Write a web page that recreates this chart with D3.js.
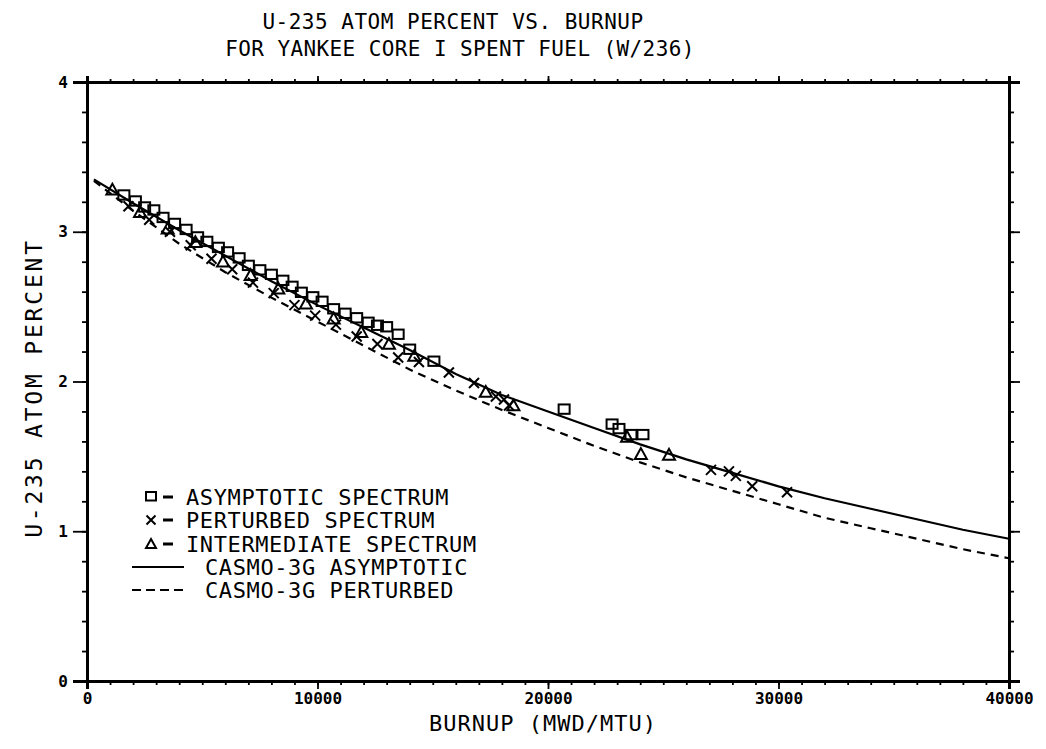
<!DOCTYPE html>
<html><head><meta charset="utf-8">
<script src="https://cdn.jsdelivr.net/npm/d3@7/dist/d3.min.js"></script>
<style>
html,body{margin:0;padding:0;background:#fff;}
svg text{font-family:"DejaVu Sans Mono","Liberation Mono",monospace;fill:#000;}
</style></head>
<body>
<svg id="c" width="1046" height="749"></svg>
<script>
// ---- data ----
const titleLines = ["U-235 ATOM PERCENT VS. BURNUP", "FOR YANKEE CORE I SPENT FUEL (W/236)"];
const xLabel = "BURNUP (MWD/MTU)";
const yLabel = "U-235 ATOM PERCENT";
const xTicks = [0, 10000, 20000, 30000, 40000];
const xTickLabels = ["0", "10000", "20000", "30000", "40000"];
const yTicks = [0, 1, 2, 3, 4];
const yTickLabels = ["0", "1", "2", "3", "4"];

// CASMO-3G asymptotic (solid)
const solidB = [300, 2000, 4000, 6000, 8000, 10000, 12000, 14000, 16000, 18000, 20000, 22000, 24000, 26000, 28000, 30000, 32000, 34000, 36000, 38000, 40000];
const solidU = [3.35, 3.19, 3.01, 2.84, 2.67, 2.51, 2.36, 2.21, 2.05, 1.91, 1.80, 1.69, 1.58, 1.48, 1.39, 1.30, 1.22, 1.15, 1.08, 1.01, 0.95];
// CASMO-3G perturbed (dashed)
const dashB = [300, 2000, 4000, 6000, 8000, 10000, 12000, 14000, 16000, 18000, 20000, 22000, 24000, 26000, 28000, 30000, 32000, 34000, 36000, 38000, 40000];
const dashU = [3.34, 3.14, 2.92, 2.73, 2.56, 2.40, 2.24, 2.08, 1.94, 1.81, 1.69, 1.57, 1.46, 1.36, 1.27, 1.18, 1.09, 1.02, 0.95, 0.88, 0.82];

// Asymptotic spectrum (squares)
const sqB = [1600, 2100, 2500, 2900, 3300, 3800, 4300, 4800, 5200, 5700, 6100, 6600, 7000, 7500, 8000, 8500, 8900, 9300, 9800, 10200, 10700, 11200, 11700, 12200, 12600, 13000, 13500, 14000, 15050, 20700, 22780, 23080, 23600, 24120];
const sqU = [3.24, 3.20, 3.16, 3.14, 3.09, 3.05, 3.01, 2.96, 2.93, 2.89, 2.86, 2.82, 2.77, 2.74, 2.71, 2.67, 2.63, 2.59, 2.56, 2.53, 2.48, 2.45, 2.42, 2.39, 2.37, 2.36, 2.31, 2.21, 2.13, 1.81, 1.71, 1.68, 1.64, 1.64];
// Perturbed spectrum (x)
const xsB = [1800, 2700, 3600, 4500, 5400, 6300, 7200, 8100, 9000, 9900, 10800, 11700, 12600, 13500, 14400, 15700, 16790, 17740, 18090, 18310, 27070, 27850, 28150, 28860, 30370];
const xsU = [3.17, 3.08, 3.00, 2.91, 2.82, 2.75, 2.66, 2.59, 2.51, 2.44, 2.38, 2.30, 2.25, 2.16, 2.13, 2.06, 1.99, 1.90, 1.88, 1.84, 1.41, 1.40, 1.37, 1.30, 1.26];
// Intermediate spectrum (triangles)
const trB = [1100, 2300, 3500, 4700, 5900, 7100, 8300, 9500, 10700, 11900, 13100, 14200, 17300, 18500, 23430, 24030, 25250];
const trU = [3.28, 3.13, 3.02, 2.93, 2.80, 2.71, 2.62, 2.52, 2.42, 2.33, 2.25, 2.17, 1.93, 1.84, 1.63, 1.515, 1.51];

const legendItems = [
  {type: "square", label: "ASYMPTOTIC SPECTRUM"},
  {type: "x", label: "PERTURBED SPECTRUM"},
  {type: "tri", label: "INTERMEDIATE SPECTRUM"},
  {type: "solid", label: "CASMO-3G ASYMPTOTIC"},
  {type: "dash", label: "CASMO-3G PERTURBED"}
];

// ---- drawing ----
const svg = d3.select("#c");
const L = 87, R = 1009, T = 82, B = 681;
const x = d3.scaleLinear().domain([0, 40000]).range([L, R]);
const y = d3.scaleLinear().domain([0, 4]).range([B, T]);

const zip = (a, b) => a.map((v, i) => [v, b[i]]);

// titles
svg.append("text").attr("x", 453).attr("y", 29).attr("text-anchor", "middle")
  .style("font-size", "21px").style("letter-spacing", "0.5px").text(titleLines[0]);
svg.append("text").attr("x", 460).attr("y", 56).attr("text-anchor", "middle")
  .style("font-size", "21px").style("letter-spacing", "0.4px").text(titleLines[1]);

// axes
const g = svg.append("g");
const bottom = d3.axisBottom(x).tickValues(d3.range(0, 40001, 1000)).tickSize(4).tickFormat("");
const bottomMajor = d3.axisBottom(x).tickValues(xTicks).tickSize(8).tickFormat((d, i) => xTickLabels[i]).tickPadding(4);
const top_ = d3.axisTop(x).tickValues(d3.range(0, 40001, 1000)).tickSize(3).tickFormat("");
const topMajor = d3.axisTop(x).tickValues(xTicks).tickSize(6).tickFormat("");
const left = d3.axisLeft(y).tickValues(d3.range(0, 4.001, 0.2)).tickSize(5).tickFormat("");
const leftMajor = d3.axisLeft(y).tickValues(yTicks).tickSize(14).tickFormat((d, i) => yTickLabels[i]).tickPadding(5);
const right = d3.axisRight(y).tickValues(d3.range(0, 4.001, 0.2)).tickSize(5).tickFormat("");
const rightMajor = d3.axisRight(y).tickValues(yTicks).tickSize(11).tickFormat("");

function styleAxis(sel, w) {
  sel.select(".domain").attr("stroke", "#000").attr("stroke-width", w);
  sel.selectAll(".tick line").attr("stroke", "#000").attr("stroke-width", 1.8);
  sel.selectAll(".tick text").style("font-size", "16px").style("font-weight", "bold")
     .style("font-family", "'DejaVu Sans Mono', monospace");
}
[[bottom, `translate(0,${B})`], [bottomMajor, `translate(0,${B})`], [top_, `translate(0,${T})`], [topMajor, `translate(0,${T})`],
 [left, `translate(${L},0)`], [leftMajor, `translate(${L},0)`], [right, `translate(${R},0)`], [rightMajor, `translate(${R},0)`]]
 .forEach(([ax, tr]) => { const s = g.append("g").attr("transform", tr).call(ax); styleAxis(s, 3); });

// axis labels
svg.append("text").attr("x", 543).attr("y", 731).attr("text-anchor", "middle")
  .style("font-size", "22px").style("letter-spacing", "1px").text(xLabel);
svg.append("text").attr("transform", "translate(42,388) rotate(-90)").attr("text-anchor", "middle")
  .style("font-size", "23px").style("letter-spacing", "2.8px").text(yLabel);

// curves
const line = d3.line().x(d => x(d[0])).y(d => y(d[1]));
svg.append("path").datum(zip(solidB, solidU)).attr("d", line)
  .attr("fill", "none").attr("stroke", "#000").attr("stroke-width", 2.2);
svg.append("path").datum(zip(dashB, dashU)).attr("d", line)
  .attr("fill", "none").attr("stroke", "#000").attr("stroke-width", 2.2).attr("stroke-dasharray", "8,6");

// markers
function drawSquare(sel, cx, cy, s) {
  sel.append("rect").attr("x", cx - s / 2).attr("y", cy - s / 2).attr("width", s).attr("height", s * 0.85)
    .attr("fill", "none").attr("stroke", "#000").attr("stroke-width", 2);
}
function drawX(sel, cx, cy, s) {
  const h = s / 2;
  sel.append("path").attr("d", `M${cx - h},${cy - h}L${cx + h},${cy + h}M${cx - h},${cy + h}L${cx + h},${cy - h}`)
    .attr("stroke", "#000").attr("stroke-width", 2).attr("fill", "none");
}
function drawTri(sel, cx, cy, s) {
  const h = s / 2;
  sel.append("path").attr("d", `M${cx},${cy - h}L${cx + h},${cy + h * 0.8}L${cx - h},${cy + h * 0.8}Z`)
    .attr("stroke", "#000").attr("stroke-width", 2).attr("fill", "none");
}
const mk = svg.append("g");
zip(sqB, sqU).forEach(d => drawSquare(mk, x(d[0]), y(d[1]), 11));
zip(xsB, xsU).forEach(d => drawX(mk, x(d[0]), y(d[1]), 10));
zip(trB, trU).forEach(d => drawTri(mk, x(d[0]), y(d[1]), 12));

// legend
const lg = svg.append("g");
const rowY = [497, 520, 544, 567, 590];
legendItems.forEach((it, i) => {
  const cy = rowY[i];
  let tx = 186;
  if (it.type === "square" || it.type === "x" || it.type === "tri") {
    if (it.type === "square") drawSquare(lg, 151, cy, 10);
    if (it.type === "x") drawX(lg, 151, cy, 9);
    if (it.type === "tri") drawTri(lg, 151, cy, 10);
    lg.append("line").attr("x1", 163).attr("x2", 173).attr("y1", cy).attr("y2", cy)
      .attr("stroke", "#000").attr("stroke-width", 3);
  } else {
    tx = 205;
    lg.append("line").attr("x1", 132).attr("x2", 184).attr("y1", cy).attr("y2", cy)
      .attr("stroke", "#000").attr("stroke-width", 2.2)
      .attr("stroke-dasharray", it.type === "dash" ? "9,5" : null);
  }
  lg.append("text").attr("x", tx).attr("y", cy + 8).style("font-size", "22px").style("letter-spacing", "0.6px").text(it.label);
});
</script>
</body></html>
